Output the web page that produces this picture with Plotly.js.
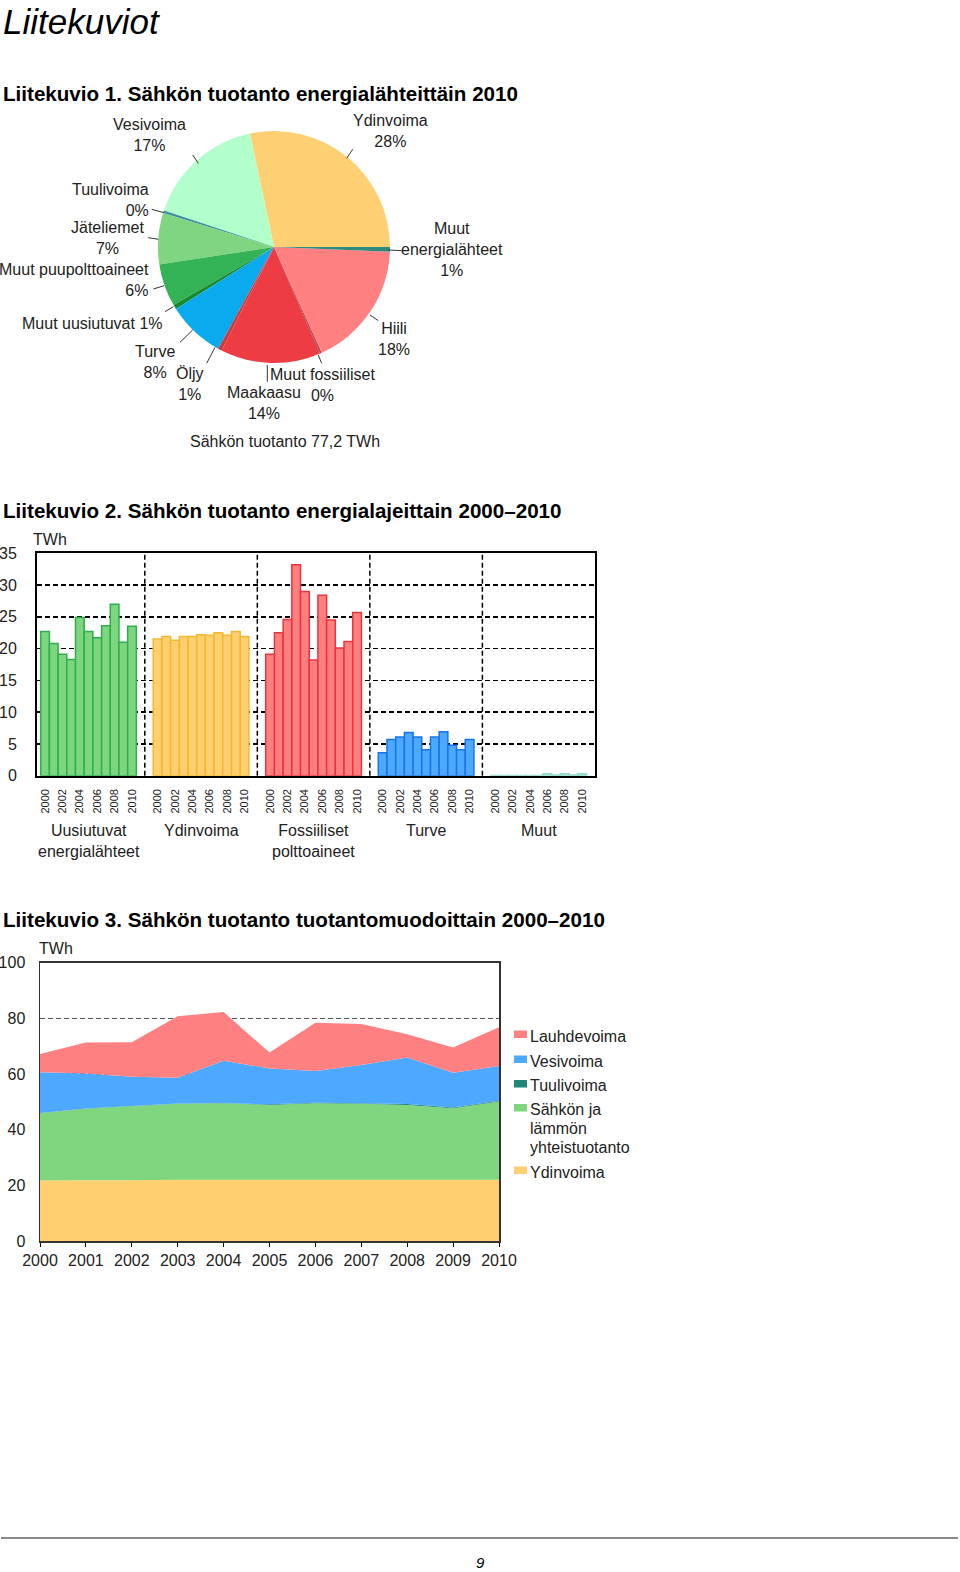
<!DOCTYPE html>
<html><head><meta charset="utf-8">
<script src="https://cdn.plot.ly/plotly-3.0.1.min.js"></script>
<style>html,body{margin:0;padding:0;background:#fff}#chart{width:960px;height:1572px}</style>
</head><body><div id="chart"></div>
<script>
// ---------------- DATA ----------------
// Liitekuvio 1 (pie, TWh, 2010)
const pieLabels = ['Ydinvoima','Vesivoima','Tuulivoima','Jäteliemet','Muut puupolttoaineet','Muut uusiutuvat','Turve','Öljy','Maakaasu','Muut fossiiliset','Hiili','Muut energialähteet'];
const pieValues = [21.9, 12.8, 0.3, 5.5, 4.6, 0.5, 6.2, 0.4, 10.8, 0.2, 13.6, 0.5];
const pieTotalText = 'Sähkön tuotanto 77,2 TWh';

// Liitekuvio 2 (bars, TWh)
const years = [2000,2001,2002,2003,2004,2005,2006,2007,2008,2009,2010];
const barGroupNames = ['Uusiutuvat<br>energialähteet','Ydinvoima','Fossiiliset<br>polttoaineet','Turve','Muut'];
const uusiutuvat = [22.7,20.8,19.1,18.3,24.9,22.7,21.7,23.6,27.0,21.0,23.5];
const ydinvoima  = [21.5,21.9,21.3,21.9,21.9,22.2,22.1,22.5,22.1,22.7,21.9];
const fossiiliset = [19.1,22.5,24.6,33.2,29.0,18.2,28.4,24.5,20.1,21.1,25.7];
const turve = [3.6,5.7,6.1,6.8,6.1,4.1,6.1,6.9,4.8,4.1,5.7];
const muut  = [0.05,0.05,0.05,0.05,0.05,0.05,0.3,0.1,0.3,0.1,0.3];
const yearTickLabels = ['2000','2002','2004','2006','2008','2010'];

// Liitekuvio 3 (stacked areas, TWh)
const ydinArea = [21.7,21.8,21.8,22.0,22.0,22.0,22.0,22.0,22.0,22.0,22.0];
const yhteistuotanto = [24.2,25.7,26.6,27.3,27.5,26.9,27.5,27.3,26.9,25.7,28.1];
const tuulivoima = [0.1,0.1,0.1,0.1,0.1,0.2,0.2,0.2,0.3,0.3,0.3];
const vesivoima = [14.6,12.6,10.5,9.3,15.2,12.9,11.4,13.7,16.7,12.5,12.5];
const lauhdevoima = [6.6,11.1,12.4,22.1,17.5,5.7,17.3,14.8,8.4,9.0,13.9];
const areaNames = ['Ydinvoima','Sähkön ja lämmön yhteistuotanto','Tuulivoima','Vesivoima','Lauhdevoima'];

// ---------------- STYLE / LAYOUT ----------------
const FONT = 'Liberation Sans, Arial, sans-serif';
const W = 960, H = 1572;
const px = v => v / W;
const py = v => 1 - v / H;

const pieColors = ['#ffd073','#b3ffcc','#3b8fa0','#80d580','#33b355','#178a2e','#0aaaee','#c83c3c','#ee3c44','#b04848','#ff8080','#2f8a7e'];
const pieDisplay = ['Ydinvoima<br>','Vesivoima<br>','Tuulivoima<br>','Jäteliemet<br>','Muut puupolttoaineet<br>','Muut uusiutuvat ','Turve<br>','Öljy<br>','Maakaasu<br>','Muut fossiiliset<br>','Hiili<br>','Muut<br>energialähteet<br>'];
const pieLabelPos = [[390,131,'center'],[149,135,'center'],[151,200,'right'],[107,238,'center'],[151,280,'right'],[92,323,'center'],[155,362,'center'],[190,384,'center'],[264,403,'center'],[322,385,'center'],[394,339,'center'],[452,250,'center']];
const pieLeaders = [[352.7,149.3,346.7,158.3],[192.7,155,198.3,163.3],[151.7,209.3,164,212.7],[148.3,237.7,158.3,239.3],[153.3,289,164,285.7],[165,311.7,173.3,306.7],[180,342.3,192.7,330],[206.7,363.3,215,347.3],[267.3,365,267.3,381.7],[318.3,355,321.7,363.3],[370,315,378.3,320.7],[388.3,250,401.7,250.7]];

const barFill = ['#7dd67d','#ffcf70','#ff7f7f','#4da9ff','#b0e8dc'];
const barLine = ['#2eae4e','#f5b730','#e8343c','#1a73e8','#90d8c8'];
const areaColors = ['#ffcf70','#7fd67f','#21857a','#4da9ff','#ff8080'];
const G = 12.94; // group spacing in bar units

const pieTotal = pieValues.reduce((a,b)=>a+b,0);
const traces = [];
traces.push({
  type:'pie', labels: pieLabels, values: pieValues, sort:false, direction:'counterclockwise',
  rotation: 90 - 360 * pieValues[0] / pieTotal,
  marker:{colors: pieColors, line:{width:0}}, textinfo:'none', showlegend:false, hoverinfo:'label+percent',
  domain:{x:[px(158), px(390)], y:[py(363), py(131)]}
});

const barSeries = [uusiutuvat, ydinvoima, fossiiliset, turve, muut];
barSeries.forEach((vals, g) => {
  traces.push({
    type:'bar', x: years.map((yr, i) => g*G + i), y: vals, width: 1,
    marker:{color: barFill[g], line:{color: barLine[g], width:1.5}},
    xaxis:'x', yaxis:'y', showlegend:false, hoverinfo:'y'
  });
});

const areaSeries = [ydinArea, yhteistuotanto, tuulivoima, vesivoima, lauhdevoima];
areaSeries.forEach((vals, k) => {
  traces.push({
    type:'scatter', mode:'none', x: years, y: vals, stackgroup:'s', fillcolor: areaColors[k],
    name: areaNames[k], xaxis:'x2', yaxis:'y2', showlegend:false
  });
});

const tickvals = [], ticktext = [];
barGroupNames.forEach((n, g) => {
  years.forEach((yr, i) => {
    if (yearTickLabels.includes(String(yr))) { tickvals.push(g*G + i); ticktext.push(String(yr)); }
  });
});

const shapes = [];
const annotations = [];
const txt = (text, x, y, size, opts) => Object.assign({text, x:px(x), y:py(y), xref:'paper', yref:'paper', xanchor:'left', yanchor:'middle', showarrow:false, font:{family:FONT, size, color:'#222'}}, opts||{});

// headings
annotations.push(txt('<i>Liitekuviot</i>', 1, 0, 35, {yanchor:'top', font:{family:FONT,size:35,color:'#000'}}));
annotations.push(txt('<b>Liitekuvio 1. Sähkön tuotanto energialähteittäin 2010</b>', 1, 93, 20.6, {font:{family:FONT,size:20.6,color:'#000'}}));
annotations.push(txt('<b>Liitekuvio 2. Sähkön tuotanto energialajeittain 2000–2010</b>', 1, 510, 20.6, {font:{family:FONT,size:20.6,color:'#000'}}));
annotations.push(txt('<b>Liitekuvio 3. Sähkön tuotanto tuotantomuodoittain 2000–2010</b>', 1, 919, 20.6, {font:{family:FONT,size:20.6,color:'#000'}}));

// pie labels
pieLabels.forEach((lab, k) => {
  const pct = Math.round(pieValues[k] / pieTotal * 100);
  const p = pieLabelPos[k];
  annotations.push(txt(pieDisplay[k] + pct + '%', p[0], p[1], 16, {xanchor:p[2], align:p[2]==='right'?'right':'center'}));
  const l = pieLeaders[k];
  shapes.push({type:'line', xref:'paper', yref:'paper', x0:px(l[0]), y0:py(l[1]), x1:px(l[2]), y1:py(l[3]), line:{color:'#333', width:1}});
});
annotations.push(txt(pieTotalText, 285, 442, 16, {xanchor:'center'}));

// bar chart extras
annotations.push(txt('TWh', 31, 539, 16));
barGroupNames.forEach((n, g) => {
  annotations.push({text:n, x: g*G + 5, xref:'x', y:py(820), yref:'paper', xanchor:'center', yanchor:'top', showarrow:false, font:{family:FONT,size:16,color:'#222'}});
  if (g < barGroupNames.length - 1) {
    const xd = g*G + (10 + G)/2;
    shapes.push({type:'line', xref:'x', yref:'y domain', x0:xd, x1:xd, y0:0, y1:1, line:{color:'#000', width:1.5, dash:'5px,3px'}});
  }
});

// area chart extras
annotations.push(txt('TWh', 37, 948, 16));
const legendOrder = [4,3,2,1,0];
const legendLines = [['Lauhdevoima'],['Vesivoima'],['Tuulivoima'],['Sähkön ja','lämmön','yhteistuotanto'],['Ydinvoima']];
const legendY = [1036, 1061, 1085.5, 1109.5, 1172];
legendOrder.forEach((k, j) => {
  const y0 = legendY[j];
  legendLines[j].forEach((ln, m) => annotations.push(txt(ln, 528, y0 + m*19, 16)));
  shapes.push({type:'rect', xref:'paper', yref:'paper', x0:px(514), x1:px(527), y0:py(y0-5.5), y1:py(y0+2), fillcolor:areaColors[k], line:{width:0}});
});

// footer
shapes.push({type:'line', xref:'paper', yref:'paper', x0:px(1), x1:px(958), y0:py(1538), y1:py(1538), line:{color:'#8a8a8a', width:2}});
annotations.push(txt('<i>9</i>', 480, 1562, 15, {xanchor:'center', font:{family:FONT,size:15,color:'#000'}}));

const layout = {
  width: W, height: H, margin:{l:0,r:0,t:0,b:0,pad:0},
  paper_bgcolor:'#fff', plot_bgcolor:'rgba(0,0,0,0)',
  font:{family:FONT, size:16, color:'#222'},
  showlegend:false, bargap:0,
  xaxis:{domain:[px(37), px(595)], range:[-0.926, 63.24], tickmode:'array', tickvals, ticktext, tickangle:-90,
    tickfont:{size:11, color:'#222'}, ticks:'outside', ticklen:7, tickcolor:'rgba(0,0,0,0)',
    showgrid:false, zeroline:false, showline:true, linecolor:'#000', linewidth:2, mirror:true, fixedrange:true},
  yaxis:{domain:[py(775.7), py(553.3)], range:[0,35], dtick:5, showgrid:true, gridcolor:'#000', griddash:'5px,3px', gridwidth:1.5,
    zeroline:false, showline:true, linecolor:'#000', linewidth:2, mirror:true, ticks:'', ticklabelstandoff:15,
    tickfont:{size:16, color:'#222'}, fixedrange:true},
  xaxis2:{anchor:'y2', domain:[px(40), px(499)], range:[2000,2010], dtick:1, tickformat:'d', ticks:'outside', ticklen:4, tickcolor:'#000',
    showgrid:false, zeroline:false, showline:true, linecolor:'#333', linewidth:1.5, mirror:true, tickfont:{size:16, color:'#222'}, fixedrange:true},
  yaxis2:{anchor:'x2', domain:[py(1241), py(962.7)], range:[0,100], dtick:20, showgrid:true, gridcolor:'#555', griddash:'5px,3px', gridwidth:1.2,
    zeroline:false, showline:true, linecolor:'#333', linewidth:1.5, mirror:true, ticks:'', ticklabelstandoff:10,
    tickfont:{size:16, color:'#222'}, fixedrange:true},
  shapes, annotations
};

Plotly.newPlot('chart', traces, layout, {staticPlot:true, displayModeBar:false});
</script>
</body></html>
